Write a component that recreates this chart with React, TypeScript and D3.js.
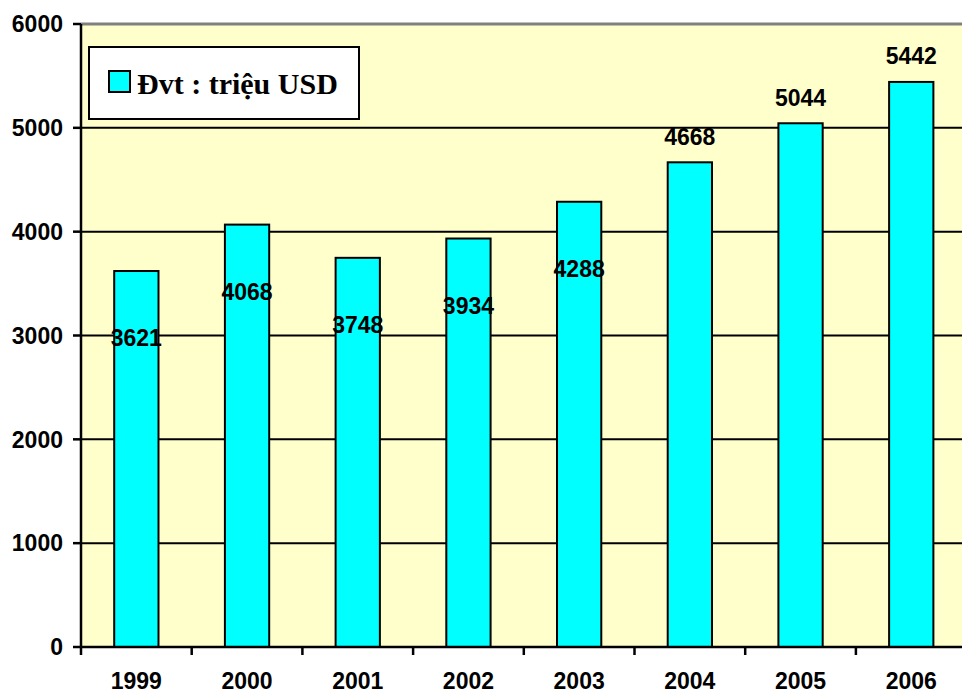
import React from "react";
import * as d3 from "d3";

const years = ["1999", "2000", "2001", "2002", "2003", "2004", "2005", "2006"];
const values = [3621, 4068, 3748, 3934, 4288, 4668, 5044, 5442];
const yTicks = [0, 1000, 2000, 3000, 4000, 5000, 6000];
const legendLabel = "Đvt : triệu USD";

const W = 962;
const H = 693;
const left = 81;
const right = 966.6;
const top = 24;
const bottom = 647;

export default function App() {
  const x = d3.scaleBand<string>().domain(years).range([left, right]).paddingInner(0.6).paddingOuter(0.3);
  const xb = d3.scaleBand<string>().domain(years).range([left, right]);
  const y = d3.scaleLinear().domain([0, 6000]).range([bottom, top]);
  const sans = "'Liberation Sans', Arial, sans-serif";
  return (
    <svg width={W} height={H} style={{ position: "absolute", left: 0, top: 0, background: "#fff" }}>
      <rect x={left} y={top} width={W - left} height={bottom - top} fill="#FFFFCC" />
      {yTicks.filter((t) => t > 0 && t < 6000).map((t) => (
        <line key={t} x1={left} x2={W} y1={y(t)} y2={y(t)} stroke="#000" strokeWidth={2} />
      ))}
      <line x1={left} x2={W} y1={top} y2={top} stroke="#808080" strokeWidth={3} />
      {values.map((v, i) => (
        <rect key={i} x={x(years[i])} y={y(v)} width={x.bandwidth()} height={bottom - y(v)}
          fill="#00FFFF" stroke="#000" strokeWidth={2} />
      ))}
      <line x1={left} x2={W} y1={bottom} y2={bottom} stroke="#000" strokeWidth={2.5} />
      <line x1={left} x2={left} y1={top} y2={bottom + 8} stroke="#000" strokeWidth={2.5} />
      {yTicks.map((t) => (
        <g key={t}>
          <line x1={left - 8} x2={left} y1={y(t)} y2={y(t)} stroke="#000" strokeWidth={2.5} />
          <text x={63} y={y(t)} dy="0.36em" textAnchor="end" fontFamily={sans} fontWeight="bold" fontSize={23}>{t}</text>
        </g>
      ))}
      {years.map((yr, i) => (
        <g key={yr}>
          {i > 0 && <line x1={xb(yr)} x2={xb(yr)} y1={bottom} y2={bottom + 8} stroke="#000" strokeWidth={2.5} />}
          <text x={(xb(yr) as number) + xb.bandwidth() / 2} y={689} textAnchor="middle"
            fontFamily={sans} fontWeight="bold" fontSize={23}>{yr}</text>
        </g>
      ))}
      {values.map((v, i) => {
        const inside = v < 4500;
        const cy = inside ? y(v) + 67 : y(v) - 26;
        return (
          <text key={i} x={(x(years[i]) as number) + x.bandwidth() / 2} y={cy} dy="0.36em" textAnchor="middle"
            fontFamily={sans} fontWeight="bold" fontSize={23}>{v}</text>
        );
      })}
      <rect x={89} y={47} width={270} height={72} fill="#fff" stroke="#000" strokeWidth={2} />
      <rect x={109} y={71} width={21} height={21} fill="#00FFFF" stroke="#000" strokeWidth={2} />
      <text x={137} y={83} dy="0.36em" fontFamily="'Liberation Serif', 'Times New Roman', serif" fontWeight="bold" fontSize={30}>{legendLabel}</text>
    </svg>
  );
}
